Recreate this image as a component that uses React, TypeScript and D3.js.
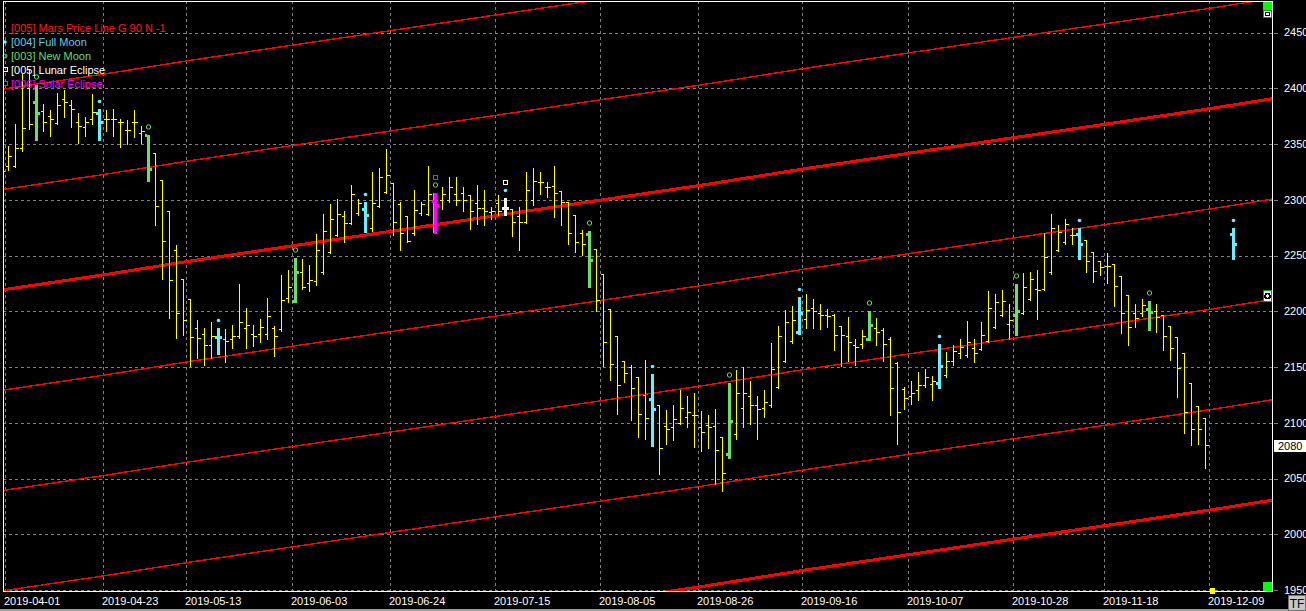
import React, { useEffect } from 'react';
import * as d3 from 'd3';

// ---------- data ----------
const firstBar = -1; // index of first bar in the arrays (one bar before 2019-04-01)

const opens = [
  2322, 2330, 2330, 2346, 2400, 2388, 2380, 2375, 2369, 2390, 2385, 2370, 2365, 2372, 2378, 2372, 2372, 2370, 2363, 2370,
  2360, 2358, 2342, 2318, 2290, 2255, 2229, 2211, 2185, 2180, 2170, 2177, 2175, 2175, 2178, 2185, 2180, 2180, 2180, 2185,
  2184, 2212, 2209, 2235, 2225, 2227, 2235, 2253, 2268, 2285, 2279, 2288, 2292, 2275, 2294, 2307, 2315, 2296, 2285, 2270,
  2288, 2287, 2299, 2300, 2300, 2305, 2306, 2304, 2297, 2293, 2289, 2297, 2293, 2292, 2285, 2280, 2300, 2316, 2311, 2312,
  2308, 2298, 2286, 2270, 2269, 2256, 2233, 2202, 2178, 2155, 2150, 2141, 2125, 2121, 2116, 2097, 2096, 2100, 2105, 2107,
  2096, 2098, 2097, 2087, 2072, 2090, 2113, 2124, 2116, 2113, 2116, 2132, 2155, 2173, 2181, 2193, 2203, 2198, 2197, 2197,
  2187, 2178, 2170, 2171, 2175, 2185, 2183, 2175, 2154, 2130, 2124, 2129, 2134, 2135, 2136, 2143, 2155, 2163, 2161, 2167,
  2166, 2173, 2186, 2197, 2189, 2197, 2198, 2211, 2220, 2220, 2235, 2255, 2262, 2268, 2269, 2264, 2253, 2245, 2241, 2242,
  2232, 2215, 2198, 2198, 2202, 2200, 2197, 2187, 2177, 2163, 2136, 2115, 2104,
];
const highs = [
  2330, 2349, 2369, 2414, 2418, 2403, 2387, 2381, 2397, 2399, 2390, 2379, 2375, 2396, 2381, 2381, 2382, 2373, 2372, 2381,
  2367, 2358, 2342, 2318, 2290, 2260, 2229, 2211, 2193, 2186, 2191, 2185, 2185, 2189, 2225, 2204, 2189, 2194, 2213, 2188,
  2233, 2238, 2248, 2248, 2242, 2270, 2288, 2297, 2302, 2291, 2314, 2302, 2298, 2326, 2329, 2346, 2315, 2299, 2286, 2310,
  2299, 2331, 2306, 2312, 2321, 2321, 2312, 2305, 2314, 2310, 2294, 2305, 2302, 2293, 2294, 2326, 2329, 2326, 2317, 2331,
  2309, 2299, 2287, 2274, 2272, 2257, 2234, 2203, 2178, 2156, 2153, 2141, 2157, 2144, 2117, 2112, 2117, 2130, 2125, 2128,
  2111, 2108, 2113, 2088, 2136, 2148, 2151, 2138, 2125, 2130, 2172, 2188, 2202, 2206, 2213, 2216, 2212, 2207, 2203, 2198,
  2188, 2196, 2176, 2184, 2200, 2195, 2186, 2178, 2155, 2133, 2138, 2146, 2149, 2143, 2171, 2164, 2171, 2176, 2192, 2176,
  2191, 2219, 2216, 2220, 2207, 2224, 2235, 2236, 2238, 2271, 2288, 2278, 2284, 2276, 2275, 2264, 2254, 2246, 2253, 2242,
  2232, 2215, 2207, 2212, 2209, 2207, 2197, 2188, 2178, 2163, 2136, 2116, 2105,
];
const lows = [
  2316, 2328, 2330, 2345, 2364, 2354, 2363, 2358, 2369, 2375, 2366, 2352, 2358, 2369, 2354, 2363, 2358, 2348, 2351, 2357,
  2352, 2317, 2278, 2230, 2195, 2177, 2180, 2152, 2159, 2153, 2159, 2162, 2155, 2168, 2177, 2168, 2170, 2173, 2176, 2161,
  2183, 2209, 2208, 2221, 2219, 2224, 2234, 2253, 2268, 2263, 2279, 2287, 2271, 2273, 2294, 2307, 2269, 2256, 2263, 2269,
  2287, 2287, 2270, 2293, 2299, 2296, 2291, 2275, 2279, 2278, 2284, 2287, 2286, 2268, 2256, 2280, 2296, 2306, 2303, 2285,
  2278, 2261, 2254, 2251, 2222, 2201, 2152, 2139, 2109, 2137, 2103, 2088, 2086, 2079, 2055, 2082, 2085, 2100, 2097, 2079,
  2076, 2078, 2046, 2040, 2068, 2086, 2097, 2100, 2086, 2106, 2115, 2132, 2155, 2172, 2180, 2186, 2186, 2185, 2187, 2166,
  2152, 2156, 2153, 2168, 2174, 2171, 2156, 2108, 2082, 2113, 2118, 2121, 2133, 2121, 2131, 2142, 2153, 2159, 2160, 2155,
  2166, 2173, 2186, 2197, 2176, 2179, 2198, 2211, 2194, 2220, 2234, 2255, 2261, 2261, 2247, 2236, 2227, 2233, 2226, 2206,
  2181, 2171, 2187, 2197, 2183, 2182, 2166, 2157, 2124, 2092, 2081, 2082, 2060,
];
const closes = [
  2326, 2339, 2346, 2364, 2368, 2378, 2370, 2372, 2385, 2388, 2381, 2366, 2370, 2379, 2370, 2372, 2372, 2370, 2363, 2370,
  2362, 2328, 2294, 2263, 2228, 2198, 2192, 2177, 2176, 2170, 2178, 2177, 2173, 2178, 2190, 2188, 2178, 2186, 2196, 2178,
  2210, 2222, 2235, 2222, 2228, 2255, 2272, 2283, 2287, 2279, 2305, 2297, 2286, 2297, 2320, 2322, 2280, 2270, 2263, 2291,
  2296, 2305, 2295, 2305, 2311, 2300, 2300, 2290, 2293, 2290, 2290, 2290, 2293, 2280, 2280, 2309, 2317, 2316, 2311, 2306,
  2298, 2270, 2262, 2260, 2246, 2210, 2172, 2153, 2134, 2145, 2131, 2108, 2104, 2112, 2077, 2094, 2103, 2113, 2110, 2107,
  2092, 2096, 2076, 2055, 2102, 2127, 2127, 2116, 2112, 2119, 2148, 2178, 2190, 2192, 2198, 2201, 2200, 2197, 2196, 2179,
  2179, 2172, 2168, 2178, 2188, 2181, 2171, 2131, 2110, 2122, 2127, 2134, 2141, 2137, 2151, 2155, 2164, 2168, 2172, 2163,
  2179, 2203, 2208, 2209, 2192, 2200, 2222, 2229, 2219, 2249, 2275, 2271, 2278, 2268, 2260, 2245, 2236, 2240, 2241, 2223,
  2198, 2186, 2194, 2206, 2199, 2195, 2178, 2167, 2149, 2110, 2094, 2094, 2080,
];

// projected bar drawn on the Full Moon date after the last session
const projK = [175];
const projOpen = [2269];
const projHigh = [2275];
const projLow = [2247];
const projClose = [2260];

const fullMoonK = [13, 30, 51, 71, 92, 113, 133, 153, 175];
const newMoonK = [4, 20, 41, 61, 83, 103, 123, 144, 163];
const lunarEclipseK = [71];
const solarEclipseK = [61];

const dateTickK = [0, 14, 26, 41, 55, 70, 85, 99, 114, 129, 144, 157, 172];
const dateTickLabels = [
  '2019-04-01', '2019-04-23', '2019-05-13', '2019-06-03', '2019-06-24', '2019-07-15', '2019-08-05',
  '2019-08-26', '2019-09-16', '2019-10-07', '2019-10-28', '2019-11-18', '2019-12-09',
];
const priceTicks = [1950, 2000, 2050, 2100, 2150, 2200, 2250, 2300, 2350, 2400, 2450];

// Mars price line (base level) read at several bars, plus its 90-unit harmonics
const marsK = [-1, 14, 26, 41, 55, 70, 85, 99, 114, 129, 144, 157, 172, 181];
const marsV = [2219, 2233, 2245, 2259, 2272, 2286, 2300, 2313, 2328, 2342, 2356, 2368, 2382, 2391];
const harmonics = [180, 90, 0, -90, -180, -270, -360];

const lastPrice = 2080;
const cursorK = 172;

const legendItems = [
  { label: '[005] Mars Price Line G 90 N -1', color: '#ff1a1a', icon: 'none' },
  { label: '[004] Full Moon', color: '#66ccee', icon: 'dot' },
  { label: '[003] New Moon', color: '#66dd66', icon: 'circle' },
  { label: '[005] Lunar Eclipse', color: '#ffffff', icon: 'square' },
  { label: '[006] Solar Eclipse', color: '#ff00ff', icon: 'square' },
];

// ---------- styles ----------
const W = 1306;
const H = 611;
const P = { left: 3, top: 1, right: 1272, bottom: 591 };
const FONT = '"Liberation Sans", Arial, sans-serif';
const YELLOW = '#ffff00';
const CYAN = '#66f0ff';
const GREEN = '#66e066';
const MAGENTA = '#ff00ff';
const RED = '#ff0000';
const GRID = '#808080';

export default function App() {
  useEffect(() => {
    document.body.style.margin = '0';
    document.body.style.background = '#000';
  }, []);

  const x = d3.scaleLinear().domain([0, 172]).range([8, 1212]);
  const y = d3.scaleLinear().domain([1950, 2450]).range([590, 32.5]);
  const px = (k: number) => Math.round(x(k)) + 0.5;
  const py = (v: number) => Math.round(y(v)) + 0.5;

  type Bar = { k: number; o: number; h: number; l: number; c: number };
  const bars: Bar[] = opens.map((o, i) => ({ k: firstBar + i, o, h: highs[i], l: lows[i], c: closes[i] }));
  projK.forEach((k, i) => bars.push({ k, o: projOpen[i], h: projHigh[i], l: projLow[i], c: projClose[i] }));

  const colorOf = (k: number) => {
    if (solarEclipseK.includes(k)) return MAGENTA;
    if (lunarEclipseK.includes(k)) return '#ffffff';
    if (fullMoonK.includes(k)) return CYAN;
    if (newMoonK.includes(k)) return GREEN;
    return null;
  };

  const line = d3
    .line<[number, number]>()
    .x((d) => x(d[0]))
    .y((d) => y(d[1]));

  const barByK = new Map(bars.map((b) => [b.k, b]));

  return (
    <svg width={W} height={H} style={{ display: 'block', position: 'absolute', left: 0, top: 0, background: '#000' }}>
      <defs>
        <clipPath id="plotClip">
          <rect x={P.left} y={P.top} width={P.right - P.left} height={P.bottom - P.top} />
        </clipPath>
      </defs>
      <rect x={0} y={0} width={W} height={H} fill="#000" />

      {/* grid */}
      <g shapeRendering="crispEdges" stroke={GRID} strokeWidth={1} strokeDasharray="3 3">
        {priceTicks.map((t) => (
          <line key={'h' + t} x1={P.left} x2={P.right} y1={py(t)} y2={py(t)} />
        ))}
        {dateTickK.map((k) => (
          <line key={'v' + k} x1={Math.round(x(k) - 3.5) + 0.5} x2={Math.round(x(k) - 3.5) + 0.5} y1={P.top} y2={P.bottom} />
        ))}
      </g>

      <g clipPath="url(#plotClip)">
        {/* Mars price lines */}
        <g fill="none" stroke={RED} shapeRendering="crispEdges">
          {harmonics.map((hOff) => (
            <path
              key={hOff}
              d={line(marsK.map((k, i) => [k, marsV[i] + hOff] as [number, number])) || ''}
              strokeWidth={hOff % 360 === 0 ? 3 : 1.4}
            />
          ))}
        </g>

        {/* OHLC bars */}
        <g shapeRendering="crispEdges">
          {bars.map((b) => {
            const cx = px(b.k);
            const col = colorOf(b.k);
            if (!col) {
              return (
                <g key={b.k} stroke={YELLOW} strokeWidth={1}>
                  <line x1={cx} x2={cx} y1={py(b.h)} y2={py(b.l) + 1} />
                  <line x1={cx - 3} x2={cx} y1={py(b.o)} y2={py(b.o)} />
                  <line x1={cx} x2={cx + 3} y1={py(b.c)} y2={py(b.c)} />
                </g>
              );
            }
            const x0 = Math.round(x(b.k)) - 1;
            const top = Math.round(y(b.h));
            const bot = Math.round(y(b.l));
            return (
              <g key={b.k}>
                {b.k === solarEclipseK[0] && (
                  <rect x={x0 - 1} y={top} width={1} height={bot - top} fill={GREEN} />
                )}
                <rect x={x0} y={top} width={3} height={bot - top + 1} fill={col} />
                <rect x={x0 - 2} y={Math.round(y(b.o)) - 1} width={2} height={3} fill={col} />
                <rect x={x0 + 3} y={Math.round(y(b.c)) - 1} width={2} height={3} fill={col} />
              </g>
            );
          })}
        </g>

        {/* moon / eclipse markers */}
        <g>
          {fullMoonK.map((k) => {
            const b = barByK.get(k)!;
            return <circle key={'fm' + k} cx={Math.round(x(k)) + 0.5} cy={Math.round(y(b.h)) - 7.5} r={1.8} fill={CYAN} />;
          })}
          {newMoonK.map((k) => {
            const b = barByK.get(k)!;
            return (
              <circle key={'nm' + k} cx={Math.round(x(k)) + 0.5} cy={Math.round(y(b.h)) - 8} r={2.2} fill="none" stroke={GREEN} strokeWidth={1} />
            );
          })}
          {lunarEclipseK.map((k) => {
            const b = barByK.get(k)!;
            return (
              <rect key={'le' + k} x={Math.round(x(k)) - 1.5} y={Math.round(y(b.h)) - 17.5} width={4} height={4} fill="none" stroke="#fff" strokeWidth={1} />
            );
          })}
          {solarEclipseK.map((k) => {
            const b = barByK.get(k)!;
            return (
              <rect key={'se' + k} x={Math.round(x(k)) - 1.5} y={Math.round(y(b.h)) - 17.5} width={4} height={4} fill="none" stroke={MAGENTA} strokeWidth={1} />
            );
          })}
        </g>
      </g>

      {/* legend */}
      <g fontFamily={FONT} fontSize={11}>
        {legendItems.map((it, i) => {
          const cy = 28 + i * 14;
          return (
            <g key={i}>
              {it.icon === 'dot' && <circle cx={5} cy={cy} r={1.8} fill={CYAN} />}
              {it.icon === 'circle' && <circle cx={5} cy={cy} r={2} fill="none" stroke={GREEN} />}
              {it.icon === 'square' && (
                <rect x={3.5} y={cy - 2.5} width={4} height={4} fill="none" stroke={it.color} strokeWidth={1} />
              )}
              <text x={11} y={cy} dy="0.36em" fill={it.color}>
                {it.label}
              </text>
            </g>
          );
        })}
      </g>

      {/* frame */}
      <g shapeRendering="crispEdges" stroke="#fff" strokeWidth={1} fill="none">
        <line x1={P.left + 0.5} x2={P.left + 0.5} y1={P.top} y2={P.bottom + 1} />
        <line x1={P.left} x2={P.right + 1} y1={P.top + 0.5} y2={P.top + 0.5} />
        <line x1={P.right + 0.5} x2={P.right + 0.5} y1={P.top} y2={P.bottom + 1} />
        <line x1={P.left} x2={P.right + 1} y1={P.bottom + 0.5} y2={P.bottom + 0.5} />
      </g>

      {/* right axis */}
      <g fontFamily={FONT} fontSize={11} shapeRendering="crispEdges">
        {priceTicks.map((t) => (
          <g key={t}>
            <line x1={1274} x2={1278} y1={py(t)} y2={py(t)} stroke={GRID} />
            <text x={1284} y={y(t)} dy="0.36em" fill="#fff">
              {t}
            </text>
          </g>
        ))}
        <rect x={1274} y={Math.round(y(lastPrice)) - 5} width={32} height={12} fill="#fff" />
        <text x={1278} y={y(lastPrice) + 1} dy="0.36em" fill="#000">
          {lastPrice}
        </text>
      </g>

      {/* bottom axis */}
      <g fontFamily={FONT} fontSize={11}>
        {dateTickK.map((k, i) => (
          <text key={k} x={Math.round(x(k) - 3.5) - 1} y={605} fill="#fff">
            {dateTickLabels[i]}
          </text>
        ))}
      </g>

      {/* widgets */}
      <g shapeRendering="crispEdges">
        <rect x={1263} y={2} width={9} height={8} fill="#00ff00" />
        <rect x={1263.5} y={10.5} width={8} height={7} fill="#fff" stroke="#00a000" />
        <rect x={1265.5} y={12.5} width={4} height={3} fill="#fff" stroke="#000" />
        <rect x={1263.5} y={290.5} width={8} height={11} fill="#fff" stroke="#00a000" />
        <circle cx={1267.5} cy={296} r={2.5} fill="#fff" stroke="#000" strokeWidth={1.5} />
        <rect x={1263} y={582} width={9} height={9} fill="#00ff00" />
        <rect x={Math.round(x(cursorK)) - 2} y={588} width={5} height={6} fill={YELLOW} />
        <rect x={0} y={609} width={W} height={2} fill="#a0a0a0" />
        <rect x={1288.5} y={595.5} width={17} height={15} fill="#c8c8c8" stroke="#707070" />
      </g>
      <text x={1297} y={608} textAnchor="middle" fontFamily={FONT} fontSize={12} fill="#000">
        TF
      </text>
    </svg>
  );
}
